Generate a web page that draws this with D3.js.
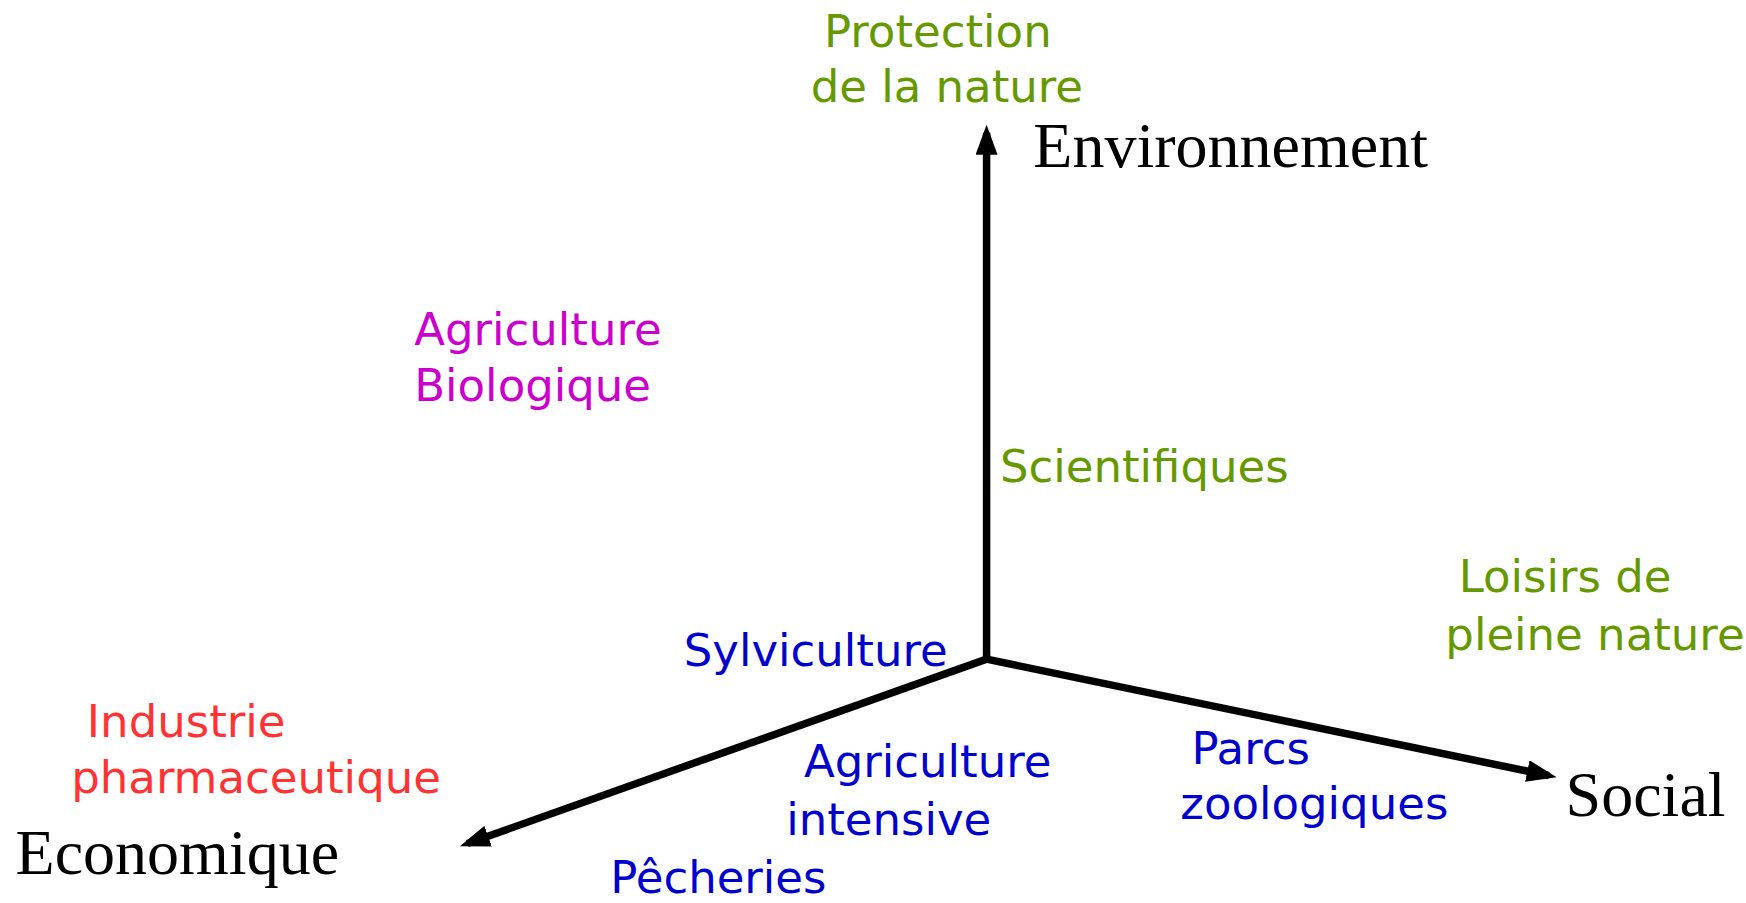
<!DOCTYPE html>
<html>
<head>
<meta charset="utf-8">
<script src="https://cdn.jsdelivr.net/npm/d3@7"></script>
<style>
  html, body { margin: 0; padding: 0; background: #fff; }
  svg { display: block; }
</style>
</head>
<body>
<div id="chart"></div>
<script>
var width = 1746,
    height = 903;

// diagram positions are read in the 1568x811 frame of the reference
var origin = [886, 592];
var axisNames = ["Environnement", "Social", "Economique"];
var axisTips = [[886, 112], [1398, 698], [413, 760]];
var axisLabelPos = [[928, 150], [1406, 733], [14, 785]];

var activities = [
  "Protection", "de la nature", "Scientifiques", "Loisirs de", "pleine nature",
  "Agriculture", "Biologique",
  "Sylviculture", "Agriculture", "intensive", "Parcs", "zoologiques", "Pêcheries",
  "Industrie", "pharmaceutique"
];
var activityGroup = [
  "env", "env", "env", "env", "env",
  "bio", "bio",
  "prod", "prod", "prod", "prod", "prod", "prod",
  "ind", "ind"
];
var activityPos = [
  [740, 42], [728, 92], [898, 433], [1310, 532], [1298, 584],
  [372, 310], [372, 360],
  [614, 598], [722, 698], [706, 750], [1070, 686], [1060, 736], [548, 802],
  [78, 662], [64, 712]
];

var x = d3.scaleLinear().domain([0, 1568]).range([0, width]),
    y = d3.scaleLinear().domain([0, 811]).range([0, height]);

var color = d3.scaleOrdinal()
  .domain(["env", "bio", "prod", "ind"])
  .range(["#669900", "#cc00cc", "#0000cc", "#ff3333"]);

var svg = d3.select("#chart").append("svg")
  .attr("width", width)
  .attr("height", height);

svg.append("defs").append("marker")
  .attr("id", "head")
  .attr("markerUnits", "userSpaceOnUse")
  .attr("viewBox", "0 0 30 22")
  .attr("refX", 22)
  .attr("refY", 11)
  .attr("markerWidth", 30)
  .attr("markerHeight", 22)
  .attr("orient", "auto")
.append("path")
  .attr("d", "M0,0L30,11L0,22Z")
  .attr("fill", "#000");

// lines stop a little short so the head's tip lands on the axis end
var headLen = 8;
svg.selectAll("line.axis")
  .data(axisTips)
.enter().append("line")
  .attr("class", "axis")
  .attr("x1", x(origin[0]))
  .attr("y1", y(origin[1]))
  .attr("x2", function(d) {
    var dx = x(d[0]) - x(origin[0]), dy = y(d[1]) - y(origin[1]);
    return x(d[0]) - headLen * dx / Math.hypot(dx, dy);
  })
  .attr("y2", function(d) {
    var dx = x(d[0]) - x(origin[0]), dy = y(d[1]) - y(origin[1]);
    return y(d[1]) - headLen * dy / Math.hypot(dx, dy);
  })
  .attr("stroke", "#000")
  .attr("stroke-width", 7.5)
  .attr("marker-end", "url(#head)");

svg.append("rect")
  .attr("x", x(origin[0]) - 3.75)
  .attr("y", y(origin[1]) - 3.75)
  .attr("width", 7.5)
  .attr("height", 7.5)
  .attr("fill", "#000");

svg.selectAll("text.axis-name")
  .data(axisNames)
.enter().append("text")
  .attr("class", "axis-name")
  .attr("x", function(d, i) { return x(axisLabelPos[i][0]); })
  .attr("y", function(d, i) { return y(axisLabelPos[i][1]); })
  .attr("font-family", "'Times New Roman', 'Liberation Serif', serif")
  .attr("font-size", 64)
  .attr("fill", "#000")
  .text(function(d) { return d; });

svg.selectAll("text.activity")
  .data(activities)
.enter().append("text")
  .attr("class", "activity")
  .attr("x", function(d, i) { return x(activityPos[i][0]); })
  .attr("y", function(d, i) { return y(activityPos[i][1]); })
  .attr("font-family", "'Comic Sans MS', 'DejaVu Sans', sans-serif")
  .attr("font-size", 45)
  .attr("fill", function(d, i) { return color(activityGroup[i]); })
  .text(function(d) { return d; });
</script>
</body>
</html>
